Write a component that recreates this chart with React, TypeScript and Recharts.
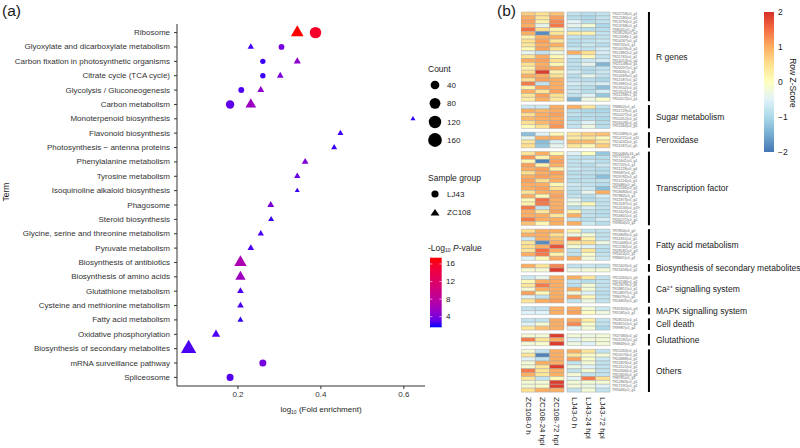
import React from 'react';
import {
  ScatterChart,
  Scatter,
  XAxis,
  YAxis,
  BarChart,
  Bar,
  Cell,
  LabelList,
  ReferenceArea,
} from 'recharts';

const FONT = '"Liberation Sans", Arial, sans-serif';

// ---------- panel (a): KEGG enrichment ----------
const terms = [
  'Ribosome',
  'Glyoxylate and dicarboxylate metabolism',
  'Carbon fixation in photosynthetic organisms',
  'Citrate cycle (TCA cycle)',
  'Glycolysis / Gluconeogenesis',
  'Carbon metabolism',
  'Monoterpenoid biosynthesis',
  'Flavonoid biosynthesis',
  'Photosynthesis \u2212 antenna proteins',
  'Phenylalanine metabolism',
  'Tyrosine metabolism',
  'Isoquinoline alkaloid biosynthesis',
  'Phagosome',
  'Steroid biosynthesis',
  'Glycine, serine and threonine metabolism',
  'Pyruvate metabolism',
  'Biosynthesis of antibiotics',
  'Biosynthesis of amino acids',
  'Glutathione metabolism',
  'Cysteine and methionine metabolism',
  'Fatty acid metabolism',
  'Oxidative phosphorylation',
  'Biosynthesis of secondary metabolites',
  'mRNA surveillance pathway',
  'Spliceosome',
];

const ljTerms = [
  'Ribosome',
  'Glyoxylate and dicarboxylate metabolism',
  'Carbon fixation in photosynthetic organisms',
  'Citrate cycle (TCA cycle)',
  'Glycolysis / Gluconeogenesis',
  'Carbon metabolism',
  'mRNA surveillance pathway',
  'Spliceosome',
];
const ljFold = [0.387, 0.305, 0.26, 0.26, 0.208, 0.181, 0.26, 0.181];
const ljCount = [94, 8, 6, 6, 9, 35, 18, 18];
const ljLogP = [15.8, 3.6, 2.1, 2.1, 2.5, 2.9, 3.6, 2.6];

const zcTerms = [
  'Ribosome',
  'Glyoxylate and dicarboxylate metabolism',
  'Carbon fixation in photosynthetic organisms',
  'Citrate cycle (TCA cycle)',
  'Glycolysis / Gluconeogenesis',
  'Carbon metabolism',
  'Monoterpenoid biosynthesis',
  'Flavonoid biosynthesis',
  'Photosynthesis \u2212 antenna proteins',
  'Phenylalanine metabolism',
  'Tyrosine metabolism',
  'Isoquinoline alkaloid biosynthesis',
  'Phagosome',
  'Steroid biosynthesis',
  'Glycine, serine and threonine metabolism',
  'Pyruvate metabolism',
  'Biosynthesis of antibiotics',
  'Biosynthesis of amino acids',
  'Glutathione metabolism',
  'Cysteine and methionine metabolism',
  'Fatty acid metabolism',
  'Oxidative phosphorylation',
  'Biosynthesis of secondary metabolites',
];
const zcFold = [
  0.343, 0.231, 0.343, 0.302, 0.255, 0.231, 0.622, 0.447, 0.432, 0.362, 0.343,
  0.343, 0.279, 0.28, 0.255, 0.231, 0.206, 0.206, 0.206, 0.206, 0.206, 0.147, 0.081,
];
const zcCount = [65, 5, 8, 6, 7, 37, 3, 4, 4, 6, 5, 3, 7, 4, 5, 6, 60, 33, 6, 6, 4, 15, 116];
const zcLogP = [
  17.4, 2.2, 4.8, 3.8, 4.8, 5.6, 1.9, 2.2, 2.0, 4.0, 3.2, 2.0, 4.0, 2.0, 2.4, 2.4,
  6.8, 5.8, 2.4, 2.4, 2.0, 2.4, 2.4,
];

const foldTicks = [0.2, 0.4, 0.6];
const countBreaks = [40, 80, 120, 160];
const pBreaks = [4, 8, 12, 16];
const P_MIN = 1.59;
const P_MAX = 17.43;

// ---------- panel (b): heatmap ----------
const sampleCols = ['ZC108-0 h', 'ZC108-24 hpi', 'ZC108-72 hpi', 'LJ43-0 h', 'LJ43-24 hpi', 'LJ43-72 hpi'];
const zBreaks = [2, 1, 0, -1, -2];

const rGeneIds = [
  'TR22718|c0_g1', 'TR12580|c0_g1', 'TR13794|c0_g1', 'TR13768|c0_g1', 'TR8441|c0_g2',
  'TR18526|c0_g2', 'TR12098|c1_g6', 'TR14187|c0_g1', 'TR9732|c0_g1', 'TR14076|c0_g1',
  'TR12882|c0_g4', 'TR11765|c0_g1', 'TR14213|c0_g5', 'TR25148|c0_g1', 'TR20297|c0_g2',
  'TR5826|c0_g3', 'TR14269|c0_g1', 'TR11587|c0_g2', 'TR13981|c0_g1', 'TR19502|c0_g1',
  'TR13525|c0_g1', 'TR11298|c1_g1', 'TR10572|c0_g1',
];
const rGeneZ = [
  [0.7, 0.5, 0.8, -0.8, -0.9, -0.8],
  [1.0, 0.4, 1.1, -0.9, -1.0, -0.8],
  [1.1, 0.2, 1.3, -0.5, -0.9, -0.8],
  [1.0, -0.4, 1.4, -0.4, -0.2, -1.0],
  [1.5, 0.5, 0.2, -0.8, -0.9, -0.9],
  [1.0, -1.8, 0.4, 0.3, 0.2, -0.8],
  [0.2, 1.0, 1.0, -0.8, -0.9, -0.8],
  [0.5, 1.1, 0.4, -0.9, -0.8, -0.7],
  [0.4, 1.0, 1.0, -0.9, -0.7, -0.9],
  [0.1, 1.1, 0.5, -0.7, -0.8, -0.6],
  [-0.4, -0.8, -0.3, 1.0, 0.5, -0.6],
  [0.4, 1.0, 0.1, -0.6, 0.1, -0.8],
  [1.0, 1.1, 0.5, -0.9, -0.7, -0.6],
  [0.5, 1.0, 0.1, -0.8, -0.4, -1.4],
  [0.2, 1.1, 1.0, -0.9, -0.9, -0.8],
  [0.5, 1.9, 0.2, -0.6, -0.9, -0.7],
  [1.0, 1.0, 0.5, -0.9, -0.4, -0.8],
  [0.5, 1.1, 1.0, -0.8, -0.9, -1.0],
  [1.4, -0.8, 1.0, -0.6, -0.7, -0.6],
  [0.2, 1.1, 1.0, -0.8, -0.9, -1.3],
  [1.0, 0.4, 1.1, -0.7, -0.9, -0.6],
  [0.4, 1.1, 0.5, -0.8, -0.5, -1.2],
  [0.3, 1.0, 0.4, -1.4, -0.3, -0.1],
];

const sugarIds = ['TR8802|c0_g1', 'TR11729|c0_g1', 'TR10227|c0_g1', 'TR10312|c0_g1', 'TR16028|c0_g1', 'TR15464|c0_g5'];
const sugarZ = [
  [-0.7, -0.7, 1.0, 1.0, 0.4, -0.8],
  [1.0, 0.9, 1.0, -0.9, -1.0, -1.0],
  [0.5, 1.0, 1.1, -0.8, -0.9, -0.9],
  [0.9, 1.0, 1.0, -1.0, -0.9, -1.0],
  [0.5, 0.9, 1.1, -0.8, -0.5, -0.9],
  [0.1, 0.5, 1.2, -0.8, -0.3, -0.9],
];

const peroxIds = ['TR12089|c0_g4', 'TR10721|c0_g11', 'TR14242|c0_g1', 'TR11587|c0_g5'];
const peroxZ = [
  [-1.3, -0.5, 0.1, 0.4, 0.7, 0.8],
  [-0.4, 1.0, 1.0, 0.3, 0.4, 0.1],
  [0.4, -1.3, -0.6, 0.9, 0.9, 0.4],
  [0.5, -1.2, -0.4, 0.4, 0.1, 0.7],
];

const tfIds = [
  'TR10084|c16_g4', 'TR7721|c0_g1', 'TR15641|c0_g1', 'TR7732|c0_g1', 'TR11228|c0_g4',
  'TR9087|c0_g2', 'TR29782|c0_g1', 'TR11224|c0_g1', 'TR5686|c0_g4', 'TR12566|c0_g1',
  'TR18484|c0_g1', 'TR7882|c0_g1', 'TR11873|c0_g2', 'TR13187|c0_g1', 'TR14530|c0_g19',
  'TR15623|c0_g1', 'TR16801|c0_g1', 'TR30271|c0_g1', 'TR9804|c0_g2',
];
const tfZ = [
  [0.4, 1.0, 0.1, -0.5, 0.0, -1.2],
  [1.2, 0.2, 1.0, -0.8, -0.9, -0.9],
  [0.1, -1.9, 1.1, -0.8, -0.7, -0.9],
  [1.1, 0.2, 1.0, -0.8, -0.9, -0.7],
  [1.0, 1.1, 0.2, -0.7, -0.8, -0.9],
  [0.5, 1.0, 1.1, -0.9, -0.8, -0.9],
  [1.0, 1.1, 1.0, -0.8, -0.9, -1.3],
  [1.1, 0.5, 1.0, -0.9, -0.8, -0.8],
  [1.0, 1.0, 0.1, -0.7, -0.8, -0.9],
  [1.0, 1.1, 0.5, -0.8, -0.7, -1.3],
  [0.4, 1.0, 1.0, -0.9, -0.4, 1.0],
  [1.0, 0.1, 1.1, -0.8, -0.9, -0.6],
  [0.1, 1.5, 1.0, -0.4, -0.9, -0.8],
  [0.2, 1.4, 1.0, -0.3, 0.1, -0.8],
  [1.4, -0.8, 1.0, -0.9, -0.6, -0.8],
  [1.0, 0.4, 1.1, 0.2, -0.8, -0.9],
  [1.0, 1.0, 0.4, 1.0, -0.8, -0.9],
  [1.4, 1.0, 1.0, -0.8, -0.9, -0.6],
  [0.8, 0.1, 1.0, 1.0, -0.7, -0.9],
];

const fattyIds = ['TR7850|c0_g2', 'TR16849|c0_g4', 'TR11811|c0_g1', 'TR10446|c0_g1', 'TR12582|c0_g1', 'TR28181|c0_g3', 'TR5014|c0_g1', 'TR8661|c0_g1'];
const fattyZ = [
  [0.5, 1.0, 1.0, 0.2, -0.8, -0.8],
  [1.0, 1.0, 0.5, -0.3, -0.2, -0.8],
  [-0.7, 1.0, 0.8, 1.4, 0.2, -0.8],
  [0.4, -1.8, 1.0, 0.4, 0.5, -0.3],
  [0.5, 1.0, 1.7, -0.2, -0.5, -0.8],
  [0.4, 1.5, 1.0, -0.8, 0.4, -0.9],
  [1.0, 1.4, 0.2, -0.8, -0.1, -0.8],
  [-0.5, 0.1, 1.0, 1.0, -0.2, -0.7],
];

const secIds = ['TR15624|c0_g2', 'TR21658|c0_g1'];
const secZ = [
  [1.0, 0.4, 1.3, -0.8, -0.7, -0.8],
  [-0.2, -0.2, 1.9, -0.3, -0.2, -0.2],
];

const caIds = ['TR13265|c0_g3', 'TR14748|c0_g2', 'TR12879|c0_g1', 'TR28851|c0_g1', 'TR14837|c0_g3', 'TR8079|c0_g1', 'TR16805|c0_g5'];
const caZ = [
  [-0.7, -0.4, 1.0, 1.0, 0.4, -0.8],
  [0.1, 1.0, 1.0, -0.8, -0.9, -0.8],
  [0.4, 1.4, 1.0, -0.9, -0.2, -0.8],
  [-0.2, 1.0, 1.0, 1.0, -0.2, -0.8],
  [1.1, 0.1, 1.0, -0.2, -0.5, -0.9],
  [-0.5, -0.8, 1.0, 1.1, 0.1, -0.8],
  [0.4, 1.0, 1.1, -0.8, -0.3, -0.8],
];

const mapkIds = ['TR31820|c0_g3', 'TR5585|c0_g1'];
const mapkZ = [
  [-0.8, -0.8, 1.0, 1.0, -0.2, -0.7],
  [-0.5, -0.5, 1.0, 1.1, 0.0, -0.3],
];

const deathIds = ['TR28151|c0_g1', 'TR28151|c0_g2', 'TR9987|c0_g2'];
const deathZ = [
  [-0.8, -0.8, 1.0, 1.0, 0.3, -0.8],
  [-0.5, -0.2, 1.0, 1.3, -0.1, -0.8],
  [0.4, 0.8, 1.0, -0.5, -0.2, -1.0],
];

const gshIds = ['TR27484|c0_g2', 'TR22182|c0_g1', 'TR8849|c0_g5'];
const gshZ = [
  [-0.2, -0.2, 1.9, -0.2, -0.3, -0.2],
  [1.4, 0.4, 1.0, -0.5, -0.2, -0.2],
  [-0.2, -0.1, 1.9, -0.3, -0.5, -0.2],
];

const otherIds = [
  'TR15263|c0_g1', 'TR10576|c0_g1', 'TR24888|c0_g1', 'TR15876|c0_g3', 'TR13121|c0_g1',
  'TR10306|c0_g2', 'TR15824|c0_g3', 'TR8785|c0_g1', 'TR12863|c0_g1', 'TR17195|c0_g1',
  'TR9446|c0_g1',
];
const otherZ = [
  [-0.2, -0.8, 1.0, 1.0, 0.4, -0.8],
  [0.4, -1.9, 1.0, 0.4, -0.1, -0.2],
  [-0.5, -0.8, 1.0, 1.1, -0.1, -0.7],
  [-0.2, 1.0, 1.0, -0.8, -0.2, -0.8],
  [-0.2, 0.4, 1.9, -0.3, -0.5, -0.8],
  [1.4, 0.4, 1.0, -0.8, -0.2, -0.8],
  [1.0, 0.4, 1.0, -0.2, -0.8, -0.8],
  [0.4, -0.8, 0.1, -0.5, 1.4, 0.5],
  [-0.2, -0.2, 1.9, -0.2, -0.2, -0.2],
  [-0.2, -0.1, 1.9, -0.2, -0.3, -0.5],
  [0.5, 1.0, 1.0, -0.8, -0.2, -0.8],
];

const groupNames = [
  'R genes',
  'Sugar metabolism',
  'Peroxidase',
  'Transcription factor',
  'Fatty acid metabolism',
  'Biosynthesis of secondary metabolites',
  'Ca\u00b2\u207a signalling system',
  'MAPK signalling system',
  'Cell death',
  'Glutathione',
  'Others',
];
const groupIds = [rGeneIds, sugarIds, peroxIds, tfIds, fattyIds, secIds, caIds, mapkIds, deathIds, gshIds, otherIds];
const groupZ = [rGeneZ, sugarZ, peroxZ, tfZ, fattyZ, secZ, caZ, mapkZ, deathZ, gshZ, otherZ];

// ---------- helpers ----------
function toLab(hex: string) {
  const lin = (c: number) => {
    c /= 255;
    return c <= 0.04045 ? c / 12.92 : Math.pow((c + 0.055) / 1.055, 2.4);
  };
  const r = lin(parseInt(hex.slice(1, 3), 16));
  const g = lin(parseInt(hex.slice(3, 5), 16));
  const b = lin(parseInt(hex.slice(5, 7), 16));
  const X = (r * 0.4124 + g * 0.3576 + b * 0.1805) / 0.95047;
  const Y = r * 0.2126 + g * 0.7152 + b * 0.0722;
  const Z = (r * 0.0193 + g * 0.1192 + b * 0.9505) / 1.08883;
  const f = (t: number) => (t > 0.008856 ? Math.cbrt(t) : 7.787 * t + 16 / 116);
  return [116 * f(Y) - 16, 500 * (f(X) - f(Y)), 200 * (f(Y) - f(Z))];
}

function fromLab(L: number, a: number, bb: number) {
  const fy = (L + 16) / 116;
  const fx = fy + a / 500;
  const fz = fy - bb / 200;
  const inv = (t: number) => (t * t * t > 0.008856 ? t * t * t : (t - 16 / 116) / 7.787);
  const X = inv(fx) * 0.95047;
  const Y = inv(fy);
  const Z = inv(fz) * 1.08883;
  const R = X * 3.2406 - Y * 1.5372 - Z * 0.4986;
  const G = -X * 0.9689 + Y * 1.8758 + Z * 0.0415;
  const B = X * 0.0557 - Y * 0.204 + Z * 1.057;
  const gam = (c: number) => {
    c = c <= 0.0031308 ? 12.92 * c : 1.055 * Math.pow(c, 1 / 2.4) - 0.055;
    return Math.round(Math.max(0, Math.min(1, c)) * 255);
  };
  return `rgb(${gam(R)},${gam(G)},${gam(B)})`;
}

const LAB_LOW = toLab('#0000ff');
const LAB_HIGH = toLab('#ff0000');

function pColor(v: number) {
  const t = Math.max(0, Math.min(1, (v - P_MIN) / (P_MAX - P_MIN)));
  return fromLab(
    LAB_LOW[0] + (LAB_HIGH[0] - LAB_LOW[0]) * t,
    LAB_LOW[1] + (LAB_HIGH[1] - LAB_LOW[1]) * t,
    LAB_LOW[2] + (LAB_HIGH[2] - LAB_LOW[2]) * t,
  );
}

// diameter of a point for a given gene count
function dotSize(count: number) {
  return 4 + 0.78 * Math.sqrt(Math.max(count - 3, 0));
}

const Z_STOPS = ['#4575b4', '#74add1', '#abd9e9', '#e0f3f8', '#ffffbf', '#fee090', '#fdae61', '#f46d43', '#d73027'];

function hexRgb(h: string) {
  return [1, 3, 5].map((i) => parseInt(h.slice(i, i + 2), 16));
}

function zColor(z: number) {
  const pos = ((Math.max(-2, Math.min(2, z)) + 2) / 4) * (Z_STOPS.length - 1);
  const i = Math.min(Math.floor(pos), Z_STOPS.length - 2);
  const t = pos - i;
  const a = hexRgb(Z_STOPS[i]);
  const b = hexRgb(Z_STOPS[i + 1]);
  const c = a.map((v, k) => Math.round(v + (b[k] - v) * t));
  return `rgb(${c[0]},${c[1]},${c[2]})`;
}

// ---------- data tables ----------
const ljData = ljTerms.map((t, i) => ({ x: ljFold[i], y: terms.indexOf(t), count: ljCount[i], p: ljLogP[i] }));
const zcData = zcTerms.map((t, i) => ({ x: zcFold[i], y: terms.indexOf(t), count: zcCount[i], p: zcLogP[i] }));

const COL_W = 1;
const SEP_W = 0.21;
const colTicks = [0.5, 1.5, 2.5, 3 + SEP_W + 0.5, 4 + SEP_W + 0.5, 5 + SEP_W + 0.5];

type HeatRow = { id: string; label: string; spacer: boolean; z: number[]; [k: string]: any };
const heatRows: HeatRow[] = [];
groupIds.forEach((ids, g) => {
  if (g > 0) {
    heatRows.push({ id: `gap${g}`, label: '', spacer: true, z: [0, 0, 0, 0, 0, 0], c0: 0, c1: 0, c2: 0, sep: 0, c3: 0, c4: 0, c5: 0 });
  }
  ids.forEach((id, k) => {
    heatRows.push({
      id,
      label: id,
      spacer: false,
      z: groupZ[g][k],
      c0: COL_W, c1: COL_W, c2: COL_W, sep: SEP_W, c3: COL_W, c4: COL_W, c5: COL_W,
    });
  });
});

// ---------- renderers ----------
const PointShape = (kind: 'circle' | 'triangle') => (props: any) => {
  const { cx, cy, payload } = props;
  if (cx == null || cy == null) return null;
  const d = dotSize(payload.count);
  const fill = pColor(payload.p);
  if (kind === 'circle') return <circle cx={cx} cy={cy} r={d / 2} fill={fill} />;
  const hw = 0.625 * d;
  return (
    <polygon
      points={`${cx},${cy - 0.72 * d} ${cx + hw},${cy + 0.36 * d} ${cx - hw},${cy + 0.36 * d}`}
      fill={fill}
    />
  );
};

const TermTick = (props: any) => {
  const { x, y, payload } = props;
  return (
    <text x={x} y={y} textAnchor="end" dominantBaseline="central" fontSize={8} fill="#333" fontFamily={FONT}>
      {terms[payload.value]}
    </text>
  );
};

const GeneLabel = (props: any) => {
  const { x, y, width, height, value } = props;
  if (!value) return null;
  return (
    <text x={x + width + 2} y={y + height / 2} dominantBaseline="central" fontSize={3.6} fill="#666" fontFamily={FONT}>
      {value}
    </text>
  );
};

const ColTick = (props: any) => {
  const { x, y, payload, index } = props;
  return (
    <text
      x={x}
      y={y}
      transform={`rotate(90 ${x} ${y})`}
      textAnchor="start"
      dominantBaseline="central"
      fontSize={8}
      fill="#1a1a1a"
      fontFamily={FONT}
    >
      {sampleCols[index] ?? payload.value}
    </text>
  );
};

const axisText = { fontSize: 8, fill: '#333', fontFamily: FONT };

export default function App() {
  const pY = (v: number) => 257.7 + ((P_MAX - v) / (P_MAX - P_MIN)) * 69.6;
  const zY = (v: number) => 12 + ((2 - v) / 4) * 140;
  const pStops = Array.from({ length: 11 }, (_, i) => i / 10);

  return (
    <div style={{ position: 'absolute', left: 0, top: 0, width: 800, height: 448, background: '#fff', fontFamily: FONT }}>
      <div style={{ position: 'absolute', left: 0, top: 0 }}>
        <ScatterChart width={440} height={448} margin={{ top: 24, right: 15, bottom: 22, left: 0 }}>
          <XAxis
            type="number"
            dataKey="x"
            domain={[0.053, 0.651]}
            ticks={foldTicks}
            allowDataOverflow
            stroke="#333"
            tickSize={3}
            tick={axisText}
            height={40}
            label={{
              content: (p: any) => {
                const vb = p.viewBox;
                const cx = vb.x + vb.width / 2 + 20;
                return (
                  <text x={cx} y={vb.y + 26} textAnchor="middle" fontSize={8} fill="#1a1a1a" fontFamily={FONT}>
                    log<tspan fontSize={5} dy={2}>10</tspan>
                    <tspan dy={-2}> (Fold enrichment)</tspan>
                  </text>
                );
              },
            }}
          />
          <YAxis
            type="number"
            dataKey="y"
            domain={[-0.6, terms.length - 0.4]}
            reversed
            ticks={terms.map((_, i) => i)}
            interval={0}
            width={177}
            stroke="#333"
            tickSize={3}
            tickMargin={4}
            tick={TermTick}
            label={{
              content: () => (
                <text x={9} y={192} transform="rotate(-90 9 192)" textAnchor="middle" fontSize={8.5} fill="#1a1a1a" fontFamily={FONT}>
                  Term
                </text>
              ),
            }}
          />
          <Scatter name="LJ43" data={ljData} shape={PointShape('circle')} isAnimationActive={false} />
          <Scatter name="ZC108" data={zcData} shape={PointShape('triangle')} isAnimationActive={false} />
        </ScatterChart>
      </div>

      <div style={{ position: 'absolute', left: 500, top: 0 }}>
        <BarChart
          width={300}
          height={448}
          layout="vertical"
          data={heatRows}
          barCategoryGap={0}
          barGap={0}
          margin={{ top: 12, right: 40, bottom: 0, left: 21 }}
        >
          <XAxis
            type="number"
            domain={[0, 16.68]}
            allowDataOverflow
            ticks={colTicks}
            interval={0}
            axisLine={false}
            tickLine={false}
            tickSize={0}
            tickMargin={5}
            height={56}
            tick={ColTick}
          />
          <YAxis type="category" dataKey="id" hide />
          {['c0', 'c1', 'c2', 'sep', 'c3', 'c4', 'c5'].map((key) => {
            const col = key === 'sep' ? -1 : Number(key.slice(1));
            return (
              <Bar key={key} dataKey={key} stackId="h" isAnimationActive={false}>
                {heatRows.map((r, k) => (
                  <Cell
                    key={k}
                    fill={col < 0 || r.spacer ? 'none' : zColor(r.z[col])}
                    stroke={col < 0 || r.spacer ? 'none' : '#a6a6a6'}
                    strokeWidth={0.5}
                  />
                ))}
                {key === 'c5' && <LabelList dataKey="label" content={GeneLabel} />}
              </Bar>
            );
          })}
          {groupIds.map((ids, g) => (
            <ReferenceArea
              key={g}
              x1={8.86}
              x2={9.0}
              y1={ids[0]}
              y2={ids[ids.length - 1]}
              fill="#000"
              fillOpacity={1}
              stroke="none"
              ifOverflow="visible"
              label={{ value: groupNames[g], position: 'right', offset: 6, fontSize: 8.5, fill: '#1a1a1a', fontFamily: FONT }}
            />
          ))}
        </BarChart>
      </div>

      <svg width={800} height={448} style={{ position: 'absolute', left: 0, top: 0, pointerEvents: 'none' }} fontFamily={FONT}>
        <defs>
          <linearGradient id="pgrad" x1="0" y1="1" x2="0" y2="0">
            {pStops.map((t) => (
              <stop key={t} offset={t} stopColor={pColor(P_MIN + t * (P_MAX - P_MIN))} />
            ))}
          </linearGradient>
          <linearGradient id="zgrad" x1="0" y1="1" x2="0" y2="0">
            {Z_STOPS.map((c, i) => (
              <stop key={c} offset={i / (Z_STOPS.length - 1)} stopColor={c} />
            ))}
          </linearGradient>
        </defs>

        <text x={2} y={16} fontSize={15.5} fill="#1a1a1a">(a)</text>
        <text x={497} y={16} fontSize={15.5} fill="#1a1a1a">(b)</text>

        {/* Count legend */}
        <text x={428} y={69} dominantBaseline="central" fontSize={8.5} fill="#1a1a1a">Count</text>
        {countBreaks.map((c, i) => {
          const cy = [85, 103.3, 122, 140][i];
          return (
            <g key={c}>
              <circle cx={435} cy={cy} r={dotSize(c) / 2} fill="#000" />
              <text x={447} y={cy} dominantBaseline="central" fontSize={8} fill="#1a1a1a">{c}</text>
            </g>
          );
        })}

        {/* Sample group legend */}
        <text x={428} y={178} dominantBaseline="central" fontSize={8.5} fill="#1a1a1a">Sample group</text>
        <circle cx={435} cy={194} r={3.6} fill="#000" />
        <text x={447} y={194} dominantBaseline="central" fontSize={8} fill="#1a1a1a">LJ43</text>
        <polygon points="435,209 439.5,215.5 430.5,215.5" fill="#000" />
        <text x={447} y={212.7} dominantBaseline="central" fontSize={8} fill="#1a1a1a">ZC108</text>

        {/* -log10 P legend */}
        <text x={428} y={248} dominantBaseline="central" fontSize={8.5} fill="#1a1a1a">
          -Log<tspan fontSize={5} dy={2}>10</tspan>
          <tspan dy={-2}> </tspan>
          <tspan fontStyle="italic">P</tspan>-value
        </text>
        <rect x={430} y={257.7} width={11.7} height={69.6} fill="url(#pgrad)" />
        {pBreaks.map((v) => (
          <g key={v}>
            <line x1={430} x2={432.3} y1={pY(v)} y2={pY(v)} stroke="#fff" strokeWidth={0.6} />
            <line x1={439.4} x2={441.7} y1={pY(v)} y2={pY(v)} stroke="#fff" strokeWidth={0.6} />
            <text x={446} y={pY(v)} dominantBaseline="central" fontSize={8} fill="#1a1a1a">{v}</text>
          </g>
        ))}

        {/* Z-score colour key */}
        <rect x={764} y={12} width={10} height={140} fill="url(#zgrad)" />
        {zBreaks.map((v) => (
          <text key={v} x={778} y={zY(v)} dominantBaseline="central" fontSize={8.5} fill="#1a1a1a">
            {v < 0 ? `\u2212${-v}` : v}
          </text>
        ))}
        <text x={793} y={83} transform="rotate(90 793 83)" textAnchor="middle" dominantBaseline="central" fontSize={8.5} fill="#1a1a1a">
          Row Z-Score
        </text>
      </svg>
    </div>
  );
}
